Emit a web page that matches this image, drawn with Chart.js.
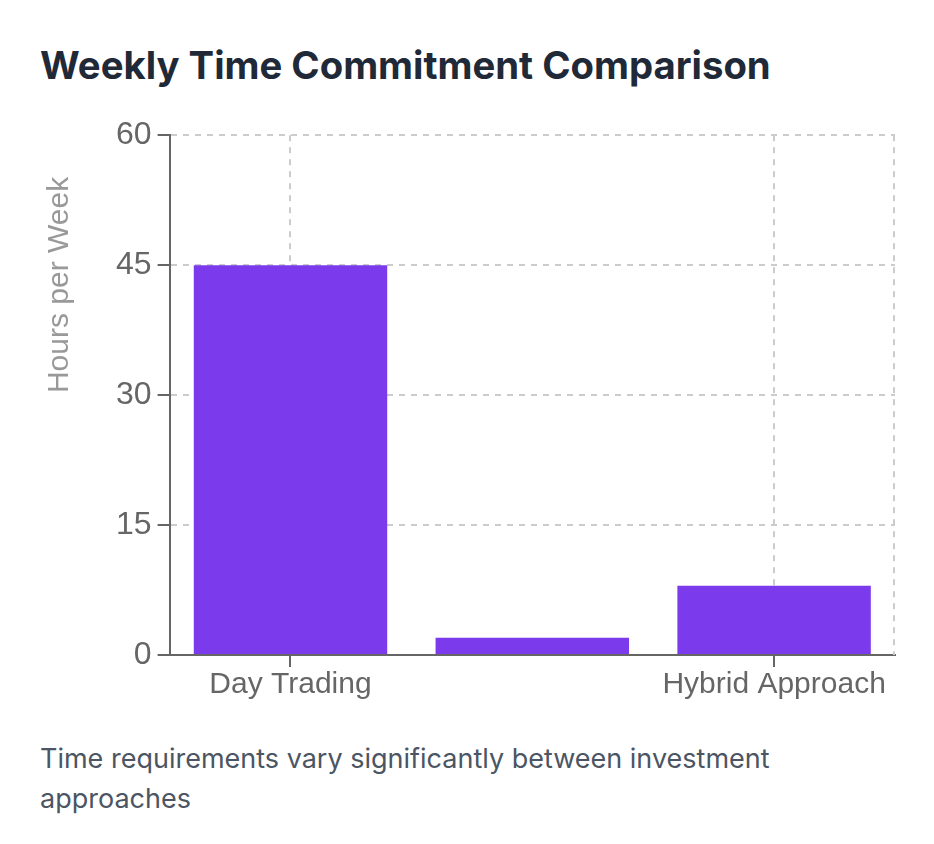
<!DOCTYPE html>
<html>
<head>
<meta charset="utf-8">
<script src="https://cdn.jsdelivr.net/npm/chart.js@4"></script>
<style>
  html, body { margin: 0; padding: 0; background: #fff; }
  body { width: 934px; height: 844px; position: relative; overflow: hidden; }
  h1 {
    position: absolute; left: 40px; top: 42px; margin: 0;
    font-family: Inter, sans-serif; font-weight: 700; font-size: 38.3px; line-height: 46px;
    color: #1f2937; letter-spacing: 0;
  }
  .chart-box { position: absolute; left: 40px; top: 110px; width: 860px; height: 593px; }
  p.note {
    position: absolute; left: 40px; top: 739px; width: 854px; margin: 0;
    font-family: Inter, sans-serif; font-size: 27px; line-height: 40px; color: #4b5563;
  }
</style>
</head>
<body>
<h1>Weekly Time Commitment Comparison</h1>
<div class="chart-box"><canvas id="timeChart"></canvas></div>
<p class="note">Time requirements vary significantly between investment approaches</p>

<script>
const approaches = ['Day Trading', 'Long-term Investing', 'Hybrid Approach'];
const hoursPerWeek = [45, 2, 8];
const hourTicks = [0, 15, 30, 45, 60];

const chartFont = "'Liberation Sans', Helvetica, Arial, sans-serif";

// dashed line along the right edge of the plot, like the rest of the grid
const rightEdge = {
    id: 'rightEdge',
    beforeDatasetsDraw(chart) {
        const { ctx, chartArea } = chart;
        const x = chart.scales.x.right;
        ctx.save();
        ctx.strokeStyle = '#ccc';
        ctx.lineWidth = 2;
        ctx.setLineDash([6, 6]);
        ctx.beginPath();
        ctx.moveTo(x - 1, chartArea.top);
        ctx.lineTo(x - 1, chartArea.bottom);
        ctx.stroke();
        ctx.restore();
    }
};

const ctx = document.getElementById('timeChart').getContext('2d');

new Chart(ctx, {
    type: 'bar',
    data: {
        labels: approaches,
        datasets: [{
            label: 'Hours per Week',
            data: hoursPerWeek,
            backgroundColor: '#7c3aed',
            borderWidth: 0,
            categoryPercentage: 0.8,
            barPercentage: 1.0
        }]
    },
    options: {
        responsive: true,
        maintainAspectRatio: false,
        animation: false,
        layout: { padding: { top: 20, right: 5, left: 0, bottom: 0 } },
        plugins: {
            legend: { display: false },
            tooltip: { enabled: false }
        },
        scales: {
            x: {
                grid: {
                    offset: false,
                    color: '#ccc',
                    lineWidth: 2,
                    tickColor: '#666',
                    tickWidth: 2,
                    tickLength: 12
                },
                border: { color: '#666', width: 2, dash: [6, 6] },
                ticks: {
                    color: '#666',
                    font: { family: chartFont, size: 30 },
                    maxRotation: 0,
                    autoSkip: true,
                    padding: 0
                }
            },
            y: {
                min: 0,
                max: 60,
                afterBuildTicks: (scale) => {
                    scale.ticks = hourTicks.map(v => ({ value: v }));
                },
                grid: {
                    color: '#ccc',
                    lineWidth: 2,
                    tickColor: '#666',
                    tickWidth: 2,
                    tickLength: 12
                },
                border: { color: '#666', width: 2, dash: [6, 6] },
                ticks: {
                    color: '#666',
                    font: { family: chartFont, size: 32 },
                    padding: 6
                },
                title: {
                    display: true,
                    text: 'Hours per Week     ',
                    align: 'end',
                    color: '#999',
                    font: { family: chartFont, size: 30 },
                    padding: { top: 2, bottom: 32 }
                }
            }
        }
    },
    plugins: [rightEdge]
});
</script>
</body>
</html>
